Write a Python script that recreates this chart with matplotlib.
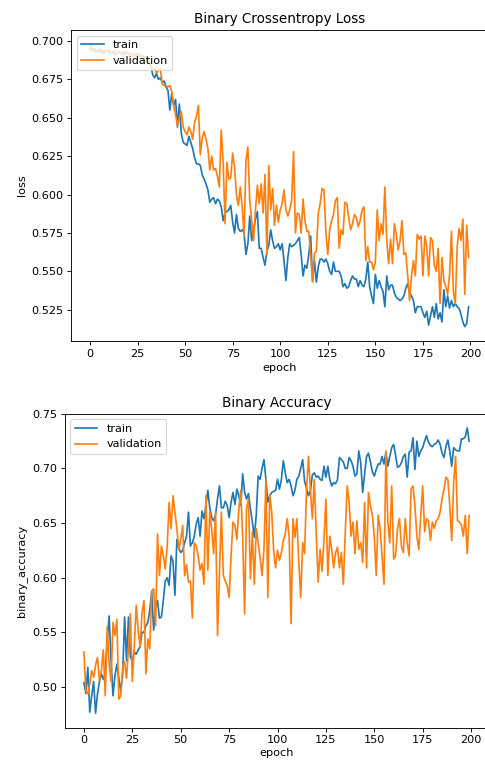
import numpy as np
import matplotlib
matplotlib.use('Agg')
import matplotlib.pyplot as plt

# loss per epoch
train_loss = [
  0.695, 0.694, 0.695, 0.693, 0.694, 0.693, 0.694, 0.692, 0.693, 0.694,
  0.693, 0.692, 0.693, 0.691, 0.692, 0.693, 0.692, 0.691, 0.692, 0.693,
  0.692, 0.691, 0.692, 0.690, 0.691, 0.692, 0.690, 0.691, 0.690, 0.689,
  0.690, 0.687, 0.684, 0.678, 0.676, 0.679, 0.675, 0.676, 0.673, 0.674,
  0.670, 0.668, 0.655, 0.666, 0.658, 0.662, 0.644, 0.659, 0.640, 0.634,
  0.633, 0.632, 0.638, 0.634, 0.630, 0.624, 0.620, 0.620, 0.619, 0.613,
  0.610, 0.607, 0.603, 0.595, 0.597, 0.598, 0.594, 0.597, 0.596, 0.592,
  0.583, 0.588, 0.589, 0.590, 0.593, 0.582, 0.575, 0.587, 0.578, 0.576,
  0.577, 0.575, 0.561, 0.568, 0.586, 0.570, 0.577, 0.584, 0.589, 0.565,
  0.565, 0.559, 0.554, 0.563, 0.567, 0.577, 0.570, 0.565, 0.566, 0.568,
  0.564, 0.568, 0.557, 0.544, 0.559, 0.568, 0.566, 0.567, 0.568, 0.570,
  0.572, 0.561, 0.547, 0.554, 0.552, 0.561, 0.573, 0.544, 0.557, 0.543,
  0.553, 0.558, 0.558, 0.556, 0.558, 0.555, 0.550, 0.548, 0.556, 0.550,
  0.550, 0.550, 0.547, 0.540, 0.542, 0.539, 0.540, 0.544, 0.547, 0.545,
  0.545, 0.540, 0.544, 0.541, 0.540, 0.545, 0.556, 0.540, 0.534, 0.529,
  0.548, 0.539, 0.544, 0.540, 0.537, 0.527, 0.547, 0.538, 0.541, 0.541,
  0.536, 0.533, 0.532, 0.531, 0.532, 0.534, 0.539, 0.542, 0.536, 0.534,
  0.531, 0.523, 0.527, 0.527, 0.527, 0.523, 0.520, 0.524, 0.515, 0.521,
  0.527, 0.520, 0.529, 0.519, 0.523, 0.517, 0.538, 0.527, 0.534, 0.526,
  0.531, 0.527, 0.529, 0.527, 0.526, 0.522, 0.517, 0.514, 0.516, 0.527,
]
val_loss = [
  0.698, 0.694, 0.695, 0.694, 0.693, 0.695, 0.694, 0.693, 0.694, 0.693,
  0.694, 0.693, 0.692, 0.694, 0.692, 0.693, 0.692, 0.693, 0.691, 0.692,
  0.693, 0.691, 0.692, 0.690, 0.692, 0.691, 0.690, 0.691, 0.689, 0.690,
  0.689, 0.686, 0.684, 0.681, 0.682, 0.679, 0.681, 0.682, 0.672, 0.671,
  0.671, 0.670, 0.671, 0.667, 0.658, 0.652, 0.645, 0.650, 0.654, 0.644,
  0.641, 0.639, 0.644, 0.641, 0.636, 0.647, 0.651, 0.658, 0.626, 0.637,
  0.641, 0.636, 0.630, 0.616, 0.625, 0.616, 0.617, 0.612, 0.605, 0.642,
  0.622, 0.581, 0.621, 0.610, 0.611, 0.627, 0.618, 0.600, 0.593, 0.605,
  0.592, 0.573, 0.622, 0.631, 0.596, 0.583, 0.570, 0.590, 0.606, 0.594,
  0.607, 0.588, 0.613, 0.561, 0.619, 0.590, 0.604, 0.580, 0.593, 0.582,
  0.590, 0.594, 0.603, 0.590, 0.586, 0.590, 0.596, 0.628, 0.575, 0.588,
  0.587, 0.575, 0.597, 0.583, 0.576, 0.576, 0.560, 0.543, 0.562, 0.563,
  0.588, 0.594, 0.604, 0.603, 0.575, 0.561, 0.577, 0.583, 0.587, 0.596,
  0.598, 0.565, 0.577, 0.574, 0.595, 0.594, 0.585, 0.577, 0.581, 0.587,
  0.585, 0.579, 0.583, 0.590, 0.592, 0.557, 0.566, 0.556, 0.556, 0.551,
  0.556, 0.590, 0.570, 0.581, 0.574, 0.605, 0.570, 0.555, 0.571, 0.555,
  0.581, 0.574, 0.564, 0.570, 0.583, 0.561, 0.562, 0.547, 0.531, 0.547,
  0.557, 0.547, 0.574, 0.571, 0.573, 0.547, 0.573, 0.566, 0.547, 0.572,
  0.570, 0.554, 0.550, 0.565, 0.529, 0.559, 0.544, 0.540, 0.535, 0.548,
  0.576, 0.537, 0.529, 0.566, 0.578, 0.570, 0.584, 0.535, 0.580, 0.559,
]

# binary accuracy per epoch
train_acc = [
  0.504, 0.494, 0.518, 0.477, 0.492, 0.505, 0.476, 0.494, 0.505, 0.512,
  0.507, 0.512, 0.542, 0.565, 0.524, 0.492, 0.510, 0.521, 0.508, 0.496,
  0.512, 0.564, 0.524, 0.564, 0.527, 0.524, 0.532, 0.530, 0.534, 0.537,
  0.550, 0.550, 0.556, 0.559, 0.570, 0.587, 0.552, 0.573, 0.579, 0.563,
  0.564, 0.579, 0.597, 0.600, 0.593, 0.620, 0.615, 0.584, 0.635, 0.627,
  0.623, 0.625, 0.632, 0.638, 0.660, 0.629, 0.632, 0.638, 0.649, 0.655,
  0.638, 0.661, 0.654, 0.666, 0.680, 0.664, 0.655, 0.652, 0.658, 0.672,
  0.684, 0.664, 0.664, 0.670, 0.666, 0.655, 0.669, 0.678, 0.667, 0.681,
  0.675, 0.666, 0.695, 0.678, 0.672, 0.677, 0.663, 0.651, 0.637, 0.657,
  0.693, 0.690, 0.700, 0.708, 0.690, 0.669, 0.675, 0.678, 0.679, 0.680,
  0.690, 0.681, 0.690, 0.707, 0.696, 0.687, 0.690, 0.684, 0.675, 0.680,
  0.690, 0.693, 0.700, 0.708, 0.688, 0.682, 0.675, 0.680, 0.694, 0.696,
  0.692, 0.693, 0.690, 0.689, 0.702, 0.692, 0.702, 0.690, 0.684, 0.687,
  0.686, 0.690, 0.710, 0.708, 0.706, 0.700, 0.700, 0.710, 0.707, 0.702,
  0.693, 0.695, 0.716, 0.705, 0.678, 0.695, 0.711, 0.714, 0.706, 0.697,
  0.693, 0.699, 0.704, 0.704, 0.711, 0.704, 0.715, 0.702, 0.711, 0.719,
  0.722, 0.712, 0.701, 0.702, 0.705, 0.711, 0.713, 0.692, 0.715, 0.716,
  0.728, 0.699, 0.725, 0.711, 0.716, 0.719, 0.725, 0.730, 0.724, 0.721,
  0.720, 0.722, 0.723, 0.726, 0.722, 0.714, 0.710, 0.720, 0.726, 0.716,
  0.702, 0.719, 0.717, 0.716, 0.716, 0.727, 0.727, 0.729, 0.737, 0.725,
]
val_acc = [
  0.532, 0.496, 0.494, 0.503, 0.515, 0.509, 0.520, 0.527, 0.506, 0.515,
  0.534, 0.492, 0.555, 0.521, 0.505, 0.559, 0.547, 0.562, 0.489, 0.492,
  0.518, 0.523, 0.508, 0.536, 0.567, 0.505, 0.537, 0.575, 0.552, 0.537,
  0.568, 0.579, 0.512, 0.544, 0.535, 0.588, 0.590, 0.556, 0.640, 0.602,
  0.629, 0.620, 0.608, 0.629, 0.669, 0.645, 0.675, 0.660, 0.645, 0.626,
  0.635, 0.648, 0.602, 0.612, 0.596, 0.597, 0.563, 0.632, 0.629, 0.620,
  0.607, 0.613, 0.594, 0.675, 0.607, 0.660, 0.645, 0.622, 0.660, 0.547,
  0.602, 0.660, 0.602, 0.597, 0.593, 0.582, 0.620, 0.651, 0.648, 0.635,
  0.662, 0.680, 0.638, 0.567, 0.663, 0.672, 0.599, 0.642, 0.594, 0.645,
  0.632, 0.619, 0.602, 0.626, 0.690, 0.582, 0.676, 0.660, 0.625, 0.609,
  0.625, 0.616, 0.623, 0.634, 0.640, 0.654, 0.638, 0.558, 0.654, 0.637,
  0.654, 0.614, 0.582, 0.632, 0.622, 0.681, 0.711, 0.680, 0.654, 0.690,
  0.641, 0.596, 0.626, 0.606, 0.635, 0.672, 0.602, 0.638, 0.626, 0.609,
  0.623, 0.628, 0.609, 0.623, 0.594, 0.641, 0.684, 0.669, 0.638, 0.651,
  0.622, 0.652, 0.626, 0.632, 0.614, 0.669, 0.609, 0.678, 0.666, 0.657,
  0.638, 0.602, 0.657, 0.645, 0.620, 0.594, 0.716, 0.651, 0.632, 0.684,
  0.617, 0.620, 0.645, 0.654, 0.629, 0.623, 0.654, 0.632, 0.620, 0.681,
  0.684, 0.666, 0.638, 0.626, 0.657, 0.684, 0.642, 0.654, 0.652, 0.634,
  0.651, 0.645, 0.652, 0.654, 0.660, 0.672, 0.681, 0.692, 0.690, 0.666,
  0.634, 0.687, 0.711, 0.652, 0.651, 0.648, 0.638, 0.657, 0.622, 0.657,
]

dpi = 81
fig = plt.figure(figsize=(485 / dpi, 765 / dpi), dpi=dpi)

# loss panel (right spine falls just outside the canvas, like the reference)
ax1 = fig.add_axes([0.1464, 0.5546, 0.8588, 0.4062])
ax1.plot(np.arange(len(train_loss)), train_loss, label='train')
ax1.plot(np.arange(len(val_loss)), val_loss, label='validation')
ax1.set_title('Binary Crossentropy Loss')
ax1.set_ylabel('loss')
ax1.set_xlabel('epoch')
ax1.legend(loc='upper left')

# accuracy panel
ax2 = fig.add_axes([0.1334, 0.0490, 0.8736, 0.4102])
ax2.plot(np.arange(len(train_acc)), train_acc, label='train')
ax2.plot(np.arange(len(val_acc)), val_acc, label='validation')
ax2.set_title('Binary Accuracy')
ax2.set_ylabel('binary_accuracy')
ax2.set_xlabel('epoch', labelpad=2)
ax2.legend(loc='upper left')

fig.savefig('out.png', dpi=dpi)
